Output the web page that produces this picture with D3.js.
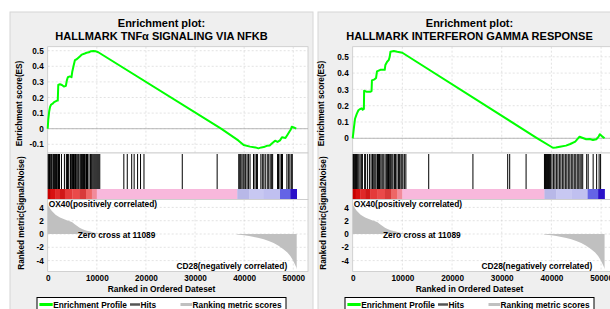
<!DOCTYPE html>
<html lang="en">
<head>
  <meta charset="UTF-8">
  <title>GSEA Enrichment Plots</title>
  <script src="https://d3js.org/d3.v7.min.js"></script>
  <style>
    body { margin: 0; background: #fff; }
    svg { display: block; font-family: "Liberation Sans", Arial, sans-serif; font-weight: bold; }
    .grid line { stroke: #d0d0d0; stroke-width: 0.6; stroke-dasharray: 2,2; }
  </style>
</head>
<body>
  <svg width="610" height="309"></svg>

  <script>
    // shared ranked list (same dataset in both plots)
    const xTicks = [0, 10000, 20000, 30000, 40000, 50000];
    const metricTicks = [4, 2, 0, -2, -4];
    const zeroCrossLabel = "Zero cross at 11089";
    const posLabel = "OX40(positively correlated)";
    const negLabel = "CD28(negatively correlated)";
    const xLabel = "Ranked in Ordered Dateset";

    // [rank, signal2noise]
    const metricScores = [
      [0, 4.6], [150, 4.2], [400, 3.9], [800, 3.5], [1200, 3.2], [1600, 2.9], [2000, 2.7],
      [2500, 2.5], [3000, 2.35], [3500, 2.2], [4000, 2.05], [4500, 1.9], [5000, 1.75],
      [5500, 1.45], [6000, 1.2], [6500, 0.95], [7000, 0.75], [7500, 0.6], [8000, 0.5],
      [8500, 0.4], [9000, 0.3], [9500, 0.2], [10000, 0.12], [10500, 0.05], [11089, 0],
      [38400, -0.01], [38600, -0.06], [39000, -0.1], [40000, -0.2], [41000, -0.3],
      [42000, -0.45], [43000, -0.6], [44000, -0.8], [45000, -1.05], [46000, -1.35],
      [47000, -1.75], [48000, -2.3], [48800, -2.8], [49400, -3.3], [49900, -3.9],
      [50300, -4.5], [50600, -5.0], [50700, -5.3]
    ];

    // [start, end, colour] of the rank colour bar
    const colorBands = [
      [0, 600, "#c80000"], [600, 1500, "#d81010"], [1500, 2500, "#e02828"], [2500, 3500, "#d01818"],
      [3500, 5000, "#e43a3a"], [5000, 6500, "#ea4a4a"], [6500, 7800, "#d83a3a"], [7800, 9000, "#ee6666"],
      [9000, 10000, "#f28a9a"], [10000, 38600, "#f8b8dc"], [38600, 41000, "#b8b8e8"],
      [41000, 44000, "#c8c8f2"], [44000, 47300, "#c0c0f0"], [47300, 49400, "#6464e6"],
      [49400, 50700, "#2a10c8"]
    ];

    const legendLabels = ["Enrichment Profile", "Hits", "Ranking metric scores"];
    const legendColors = ["#00ff00", "#555555", "#c0c0c0"];

    // left: TNFa
    const tnfTitle = ["Enrichment plot:", "HALLMARK TNFα SIGNALING VIA NFKB"];
    const tnfEsTicks = [0.5, 0.4, 0.3, 0.2, 0.1, 0, -0.1];
    const tnfProfile = [
      [0, 0], [120, 0.06], [300, 0.11], [480, 0.14], [700, 0.155], [1000, 0.16], [1300, 0.17],
      [1600, 0.175], [1900, 0.18], [2050, 0.18], [2150, 0.28], [2500, 0.285], [2900, 0.28],
      [3300, 0.27], [3700, 0.275], [3900, 0.31], [4100, 0.33], [4500, 0.335], [4850, 0.33],
      [5000, 0.365], [5250, 0.40], [5550, 0.44], [5900, 0.445], [6250, 0.455], [6600, 0.465],
      [6950, 0.475], [7400, 0.48], [7900, 0.487], [8400, 0.49], [8800, 0.497], [9300, 0.498],
      [9800, 0.496], [10300, 0.49], [35300, 0], [38800, -0.075], [39900, -0.105],
      [41200, -0.115], [42300, -0.12], [42900, -0.126], [43500, -0.12], [44000, -0.118],
      [44600, -0.11], [45200, -0.108], [45700, -0.094], [46300, -0.077], [46800, -0.085],
      [47300, -0.075], [47700, -0.055], [48400, -0.06], [48800, -0.04], [49200, -0.02],
      [49500, -0.005], [49700, 0.013], [50100, 0.008], [50600, 0]
    ];
    const tnfHits = [
      0, 120, 260, 400, 560, 700, 950, 1100, 1300, 1500, 1700, 1850, 2100, 2300, 2700, 3300,
      3700, 3850, 3950, 4050, 4200, 4550, 4700, 4900, 5000, 5150, 5300, 5450, 5550, 5700, 5900,
      6100, 6250, 6500, 6650, 6800, 7000, 7200, 7400, 7650, 7800, 8000, 8300, 8600, 8750, 8900,
      9100, 9300, 9500, 9700, 9900, 10100, 10300, 10500,
      15400, 16100, 17000, 17500, 18200, 18800, 19500, 27300, 34400,
      38800, 39000, 39200, 39450, 39700, 39900, 40200, 40500, 40800, 41100, 41800, 42100, 42400,
      42600, 43300, 43600, 43900, 44200, 44600, 44900, 45200, 45500, 45700, 46700, 46900, 47200,
      47500, 47700, 48600, 48900, 49200, 49500, 49700
    ];

    // right: IFN gamma
    const ifngTitle = ["Enrichment plot:", "HALLMARK INTERFERON GAMMA RESPONSE"];
    const ifngEsTicks = [0.5, 0.4, 0.3, 0.2, 0.1, 0];
    const ifngProfile = [
      [0, 0], [150, 0.04], [265, 0.07], [470, 0.12], [815, 0.15], [1150, 0.172], [1500, 0.18],
      [1830, 0.184], [2000, 0.175], [2250, 0.18], [2300, 0.292], [2850, 0.285], [3500, 0.285],
      [3800, 0.29], [3870, 0.355], [4400, 0.362], [4700, 0.37], [4890, 0.41], [5560, 0.42],
      [6450, 0.42], [6580, 0.45], [6930, 0.47], [7260, 0.48], [7450, 0.5], [7600, 0.531],
      [8280, 0.536], [8970, 0.531], [9990, 0.525], [37160, 0], [40300, -0.058], [40900, -0.057],
      [41700, -0.052], [42930, -0.045], [43800, -0.035], [44800, -0.02], [45660, 0.01],
      [46330, 0.002], [47000, -0.006], [47700, -0.004], [48370, -0.01], [49040, -0.006],
      [49500, 0.01], [49740, 0.025], [50200, 0.012], [50700, 0]
    ];
    const ifngHits = [
      0, 100, 200, 330, 480, 650, 800, 950, 1150, 1400, 1700, 1850, 2300, 2500, 2900, 3300, 3600,
      3870, 4000, 4200, 4400, 4600, 4890, 5100, 5300, 5560, 5800, 6000, 6200, 6580, 6750, 6930,
      7100, 7260, 7450, 7600, 7800, 8000, 8300, 8500, 8800, 9100, 9300, 9600, 9800, 10000, 10300,
      10600,
      15200, 24100, 31100, 31500, 34800,
      38500, 38700, 38900, 39100, 39300, 39500, 39700, 40000, 40300, 40600, 40900, 41200, 41500,
      41800, 42100, 42400, 42700, 43000, 43300, 43600, 43900, 44200, 44500, 44800, 45100, 45400,
      45660, 45900, 46200, 47000, 47300, 48300, 49000, 49500, 49800
    ];

    const svg = d3.select("svg");

    function drawPanel(o) {
      const cx = o.left + 151.5;
      const g = svg.append("g");

      g.append("rect")
        .attr("x", o.left).attr("y", 12)
        .attr("width", 303).attr("height", 310)
        .attr("fill", "#efefef").attr("stroke", "#d6d6d6");

      o.title.forEach((t, i) => {
        g.append("text")
          .attr("x", cx).attr("y", 27 + i * 13)
          .attr("text-anchor", "middle")
          .attr("font-size", 11)
          .text(t);
      });

      const x = d3.scaleLinear().domain([0, 53000]).range([o.plotX, o.plotX + o.plotW]);
      const yEs = d3.scaleLinear().domain(o.esDomain).range([153, 46.7]);
      const yM = d3.scaleLinear().domain([-5.64, 5.19]).range([271.5, 199.5]);

      // plot backgrounds
      [[46.7, 153], [153, 199.5], [199.5, 271.5]].forEach(([y0, y1]) => {
        g.append("rect")
          .attr("x", o.plotX).attr("y", y0)
          .attr("width", o.plotW).attr("height", y1 - y0)
          .attr("fill", "#fff").attr("stroke", "#c8c8c8").attr("stroke-width", 0.8);
      });

      // grid lines
      const grid = g.append("g").attr("class", "grid");
      xTicks.slice(1).forEach(t => {
        grid.append("line").attr("x1", x(t)).attr("x2", x(t)).attr("y1", 46.7).attr("y2", 153);
        grid.append("line").attr("x1", x(t)).attr("x2", x(t)).attr("y1", 199.5).attr("y2", 271.5);
      });
      o.esTicks.forEach(t => {
        grid.append("line").attr("x1", o.plotX).attr("x2", o.plotX + o.plotW).attr("y1", yEs(t)).attr("y2", yEs(t));
      });
      metricTicks.forEach(t => {
        grid.append("line").attr("x1", o.plotX).attr("x2", o.plotX + o.plotW).attr("y1", yM(t)).attr("y2", yM(t));
      });

      // zero line of the ES plot
      g.append("line")
        .attr("x1", o.plotX).attr("x2", o.plotX + o.plotW)
        .attr("y1", yEs(0)).attr("y2", yEs(0))
        .attr("stroke", "#a8a8a8").attr("stroke-width", 0.8);

      // enrichment profile
      g.append("path")
        .datum(o.profile)
        .attr("fill", "none")
        .attr("stroke", "#00ff00")
        .attr("stroke-width", 2)
        .attr("stroke-linejoin", "round")
        .attr("d", d3.line().x(d => x(d[0])).y(d => yEs(d[1])));

      // hits
      g.append("g").selectAll("line")
        .data(o.hits)
        .enter().append("line")
        .attr("x1", d => x(d) + 0.5).attr("x2", d => x(d) + 0.5)
        .attr("y1", 154).attr("y2", 189)
        .attr("stroke", "#000").attr("stroke-width", 1);

      // colour bar
      g.append("g").selectAll("rect")
        .data(colorBands)
        .enter().append("rect")
        .attr("x", d => x(d[0])).attr("width", d => x(d[1]) - x(d[0]) + 0.3)
        .attr("y", 189).attr("height", 10)
        .attr("fill", d => d[2]);

      // ranking metric
      g.append("path")
        .datum(metricScores)
        .attr("fill", "#c0c0c0")
        .attr("d", d3.area().x(d => x(d[0])).y0(yM(0)).y1(d => yM(d[1])));

      g.append("text").attr("x", o.plotX + 1).attr("y", 206.5).attr("font-size", 8.4).text(posLabel);
      g.append("text").attr("x", x(6100)).attr("y", 238).attr("font-size", 8.4).text(zeroCrossLabel);
      g.append("text").attr("x", o.plotX + 239.5).attr("y", 269).attr("text-anchor", "end").attr("font-size", 8.4).text(negLabel);

      // axes
      const esAxis = g.append("g")
        .attr("transform", `translate(${o.plotX},0)`)
        .call(d3.axisLeft(yEs).tickValues(o.esTicks).tickSize(0).tickPadding(4).tickFormat(d => String(d)));
      const mAxis = g.append("g")
        .attr("transform", `translate(${o.plotX},0)`)
        .call(d3.axisLeft(yM).tickValues(metricTicks).tickSize(0).tickPadding(4).tickFormat(d => String(d)));
      const xAxis = g.append("g")
        .attr("transform", "translate(0,271.5)")
        .call(d3.axisBottom(x).tickValues(xTicks).tickSize(0).tickPadding(4).tickFormat(d => String(d)));
      [esAxis, mAxis, xAxis].forEach(a => {
        a.select(".domain").remove();
        a.selectAll("text").attr("font-size", 8.2).attr("font-family", null).attr("fill", "#000");
      });

      g.append("text")
        .attr("transform", `translate(${o.left + o.esLabelX},103.5) rotate(-90)`)
        .attr("text-anchor", "middle").attr("font-size", 8.2)
        .text("Enrichment score(ES)");
      g.append("text")
        .attr("transform", `translate(${o.left + o.esLabelX + 2},213) rotate(-90)`)
        .attr("text-anchor", "middle").attr("font-size", 8.2)
        .text("Ranked metric(Signal2Noise)");
      g.append("text")
        .attr("x", cx).attr("y", 292)
        .attr("text-anchor", "middle").attr("font-size", 8.4)
        .text(xLabel);

      // legend
      const lx = cx - 124.5;
      const lg = g.append("g");
      lg.append("rect")
        .attr("x", lx).attr("y", 297.5).attr("width", 249).attr("height", 12)
        .attr("fill", "#fff").attr("stroke", "#000").attr("stroke-width", 1);
      const swatchX = [2.4, 93, 143.5];
      const swatchW = [13.3, 10, 11.6];
      const swatchH = [3, 2.5, 3];
      legendLabels.forEach((label, i) => {
        lg.append("rect")
          .attr("x", lx + swatchX[i]).attr("y", 304.5 - swatchH[i] / 2)
          .attr("width", swatchW[i]).attr("height", swatchH[i])
          .attr("fill", legendColors[i]);
        lg.append("text")
          .attr("x", lx + swatchX[i] + swatchW[i] + 0.5).attr("y", 307.5)
          .attr("font-size", 8.3)
          .text(label);
      });
    }

    drawPanel({
      left: 10, plotX: 47.7, plotW: 260.3, esLabelX: 11.7,
      title: tnfTitle, esTicks: tnfEsTicks, esDomain: [-0.1558, 0.5256],
      profile: tnfProfile, hits: tnfHits
    });
    drawPanel({
      left: 318, plotX: 352.7, plotW: 263.3, esLabelX: 6,
      title: ifngTitle, esTicks: ifngEsTicks, esDomain: [-0.0902, 0.562],
      profile: ifngProfile, hits: ifngHits
    });
  </script>
</body>
</html>
